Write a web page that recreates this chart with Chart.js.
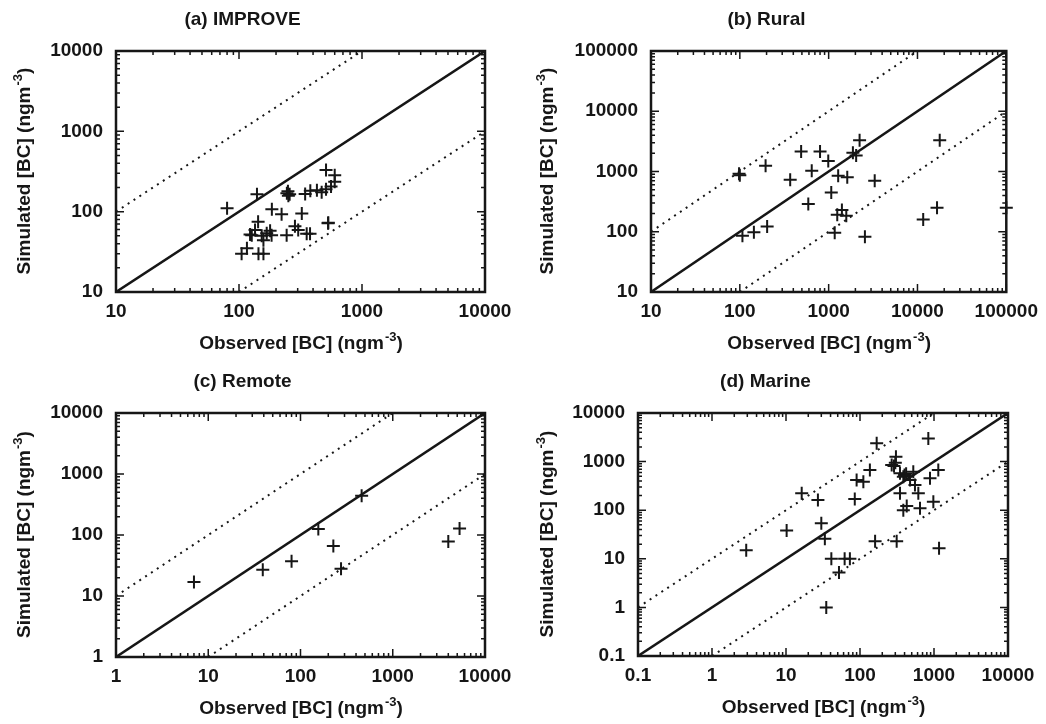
<!DOCTYPE html>
<html>
<head>
<meta charset="utf-8">
<script src="https://cdn.jsdelivr.net/npm/chart.js@4"></script>
<style>
body { margin: 0; background: #fff; }
#wrap { position: relative; width: 1046px; height: 724px; }
.panel { position: absolute; width: 523px; height: 362px; }
</style>
</head>
<body>
<div id="wrap">
  <div class="panel" style="left:0;top:0"><canvas id="improve" width="523" height="362"></canvas></div>
  <div class="panel" style="left:523px;top:0"><canvas id="rural" width="523" height="362"></canvas></div>
  <div class="panel" style="left:0;top:362px"><canvas id="remote" width="523" height="362"></canvas></div>
  <div class="panel" style="left:523px;top:362px"><canvas id="marine" width="523" height="362"></canvas></div>
</div>
<script>
// (a) IMPROVE
var improveTicks = [10, 100, 1000, 10000];
var improveObs = [80, 140, 245, 250, 258, 252, 345, 380, 430, 470, 510, 560, 510, 600, 600, 530,
    185, 222, 324, 143, 285, 532, 123, 135, 153, 168, 179, 184, 158, 244, 303, 355, 378, 127, 105, 116, 144, 158];
var improveSim = [110, 165, 170, 180, 165, 158, 166, 182, 185, 175, 190, 205, 330, 285, 235, 72,
    107, 93, 95, 75, 66, 73, 52, 59, 50, 54, 58, 51, 44, 51, 59, 53, 53, 51, 30, 35, 30, 30];

// (b) Rural
var ruralTicks = [10, 100, 1000, 10000, 100000];
var ruralObs = [2230, 17800, 490, 800, 990, 1875, 2040, 98, 100, 195, 645, 369, 1280, 1620, 3300,
    1070, 590, 1410, 1250, 1580, 16600, 11600, 100000, 203, 144, 107, 1170, 2560];
var ruralSim = [3300, 3300, 2150, 2150, 1500, 2050, 1850, 920, 870, 1250, 1030, 730, 850, 800, 700,
    450, 290, 230, 192, 185, 250, 160, 250, 122, 98, 86, 96, 83];

// (c) Remote
var remoteTicks = [1, 10, 100, 1000, 10000];
var remoteObs = [7, 39, 80, 156, 227, 275, 460, 4000, 5300];
var remoteSim = [17, 27, 37, 125, 66, 28, 440, 78, 128];

// (d) Marine
var marineTicks = [0.1, 1, 10, 100, 1000, 10000];
var marineObs = [2.9, 10.2, 16.3, 27, 30, 33.5, 35, 41, 62, 73, 52, 85, 90, 111, 136, 168, 160,
    268, 288, 306, 313, 347, 385, 400, 420, 525, 475, 553, 347, 614, 428, 385, 647, 838, 883, 1143, 980, 1170, 300];
var marineSim = [15, 38, 223, 162, 54, 26, 1, 10, 10, 10, 5.2, 170, 417, 386, 670, 2380, 23,
    850, 810, 1260, 23, 576, 490, 530, 560, 617, 417, 331, 223, 223, 122, 100, 110, 3000, 453, 670, 150, 16.4, 950];

var FONT = "'Liberation Sans', Arial, Helvetica, sans-serif";
var INK = '#161616';

function axisTitle(ctx, x, y, angle, main, sup, tail) {
    ctx.save();
    ctx.translate(x, y);
    ctx.rotate(angle);
    var big = 'bold 19px ' + FONT;
    var small = 'bold 13px ' + FONT;
    ctx.font = big;
    var w1 = ctx.measureText(main).width;
    var w3 = ctx.measureText(tail).width;
    ctx.font = small;
    var w2 = ctx.measureText(sup).width;
    var x0 = -(w1 + w2 + w3) / 2;
    ctx.fillStyle = INK;
    ctx.textAlign = 'left';
    ctx.textBaseline = 'middle';
    ctx.font = big;
    ctx.fillText(main, x0, 0);
    ctx.font = small;
    ctx.fillText(sup, x0 + w1 + 1, -7);
    ctx.font = big;
    ctx.fillText(tail, x0 + w1 + w2 + 1, 0);
    ctx.restore();
}

// gnuplot style frame: border plus inward ticks on all four sides
var framePlugin = {
    id: 'frame',
    beforeDatasetsDraw: function (chart) {
        var ctx = chart.ctx;
        var a = chart.chartArea;
        var xs = chart.scales.x, ys = chart.scales.y;
        ctx.save();
        ctx.strokeStyle = INK;
        ctx.lineWidth = 1.5;
        [xs, ys].forEach(function (s) {
            var lo = Math.round(Math.log10(s.min)), hi = Math.round(Math.log10(s.max));
            for (var e = lo; e <= hi; e++) {
                for (var k = 1; k < 10; k++) {
                    if (e === hi && k > 1) break;
                    var v = k * Math.pow(10, e);
                    var len = k === 1 ? 8 : 4;
                    var p = s.getPixelForValue(v);
                    ctx.beginPath();
                    if (s === xs) {
                        ctx.moveTo(p, a.bottom); ctx.lineTo(p, a.bottom - len);
                        ctx.moveTo(p, a.top); ctx.lineTo(p, a.top + len);
                    } else {
                        ctx.moveTo(a.left, p); ctx.lineTo(a.left + len, p);
                        ctx.moveTo(a.right, p); ctx.lineTo(a.right - len, p);
                    }
                    ctx.stroke();
                }
            }
        });
        ctx.lineWidth = 2.5;
        ctx.strokeRect(a.left, a.top, a.right - a.left, a.bottom - a.top);
        ctx.restore();
    },
    afterDraw: function (chart) {
        var ctx = chart.ctx;
        var a = chart.chartArea;
        axisTitle(ctx, (a.left + a.right) / 2, a.bottom + 52, 0, 'Observed [BC] (ngm', '-3', ')');
        axisTitle(ctx, 25, (a.top + a.bottom) / 2, -Math.PI / 2, 'Simulated [BC] (ngm', '-3', ')');
    }
};

function makePanel(id, title, ticks, obs, sim, left, right, xh) {
    var lo = ticks[0], hi = ticks[ticks.length - 1];
    var pts = obs.map(function (x, i) { return {x: x, y: sim[i]}; });
    var tickFont = {family: FONT, size: 19, weight: 'bold'};
    return new Chart(document.getElementById(id), {
        type: 'scatter',
        data: {
            datasets: [{
                data: pts,
                pointStyle: 'cross',
                pointRadius: 6.5,
                borderColor: INK,
                borderWidth: 2,
                clip: false
            }, {
                data: [{x: lo, y: lo}, {x: hi, y: hi}],
                showLine: true,
                pointRadius: 0,
                borderColor: INK,
                borderWidth: 2.5
            }, {
                data: [{x: lo, y: lo * 10}, {x: hi / 10, y: hi}],
                showLine: true,
                pointRadius: 0,
                borderColor: INK,
                borderWidth: 2,
                borderDash: [2, 5]
            }, {
                data: [{x: lo * 10, y: lo}, {x: hi, y: hi / 10}],
                showLine: true,
                pointRadius: 0,
                borderColor: INK,
                borderWidth: 2,
                borderDash: [2, 5]
            }]
        },
        options: {
            responsive: false,
            animation: false,
            devicePixelRatio: 1,
            events: [],
            layout: {padding: {left: 0, right: right, top: 0, bottom: 0}},
            plugins: {
                legend: {display: false},
                tooltip: {enabled: false},
                title: {
                    display: true,
                    text: title,
                    color: INK,
                    font: {family: FONT, size: 19, weight: 'bold'},
                    padding: {top: 8.6, bottom: 19.6}
                }
            },
            scales: {
                x: {
                    type: 'logarithmic',
                    min: lo,
                    max: hi,
                    grid: {display: false, drawTicks: false},
                    border: {display: false},
                    afterBuildTicks: function (s) { s.ticks = ticks.map(function (v) { return {value: v}; }); },
                    afterFit: function (s) { s.height = xh; },
                    ticks: {
                        callback: function (v) { return String(v); },
                        color: INK, font: tickFont, padding: 8,
                        maxRotation: 0, autoSkip: false
                    }
                },
                y: {
                    type: 'logarithmic',
                    min: lo,
                    max: hi,
                    grid: {display: false, drawTicks: false},
                    border: {display: false},
                    afterBuildTicks: function (s) { s.ticks = ticks.map(function (v) { return {value: v}; }); },
                    afterFit: function (s) { s.width = left; },
                    ticks: {
                        callback: function (v) { return String(v); },
                        color: INK, font: tickFont, padding: 13,
                        autoSkip: false
                    }
                }
            }
        },
        plugins: [framePlugin]
    });
}

makePanel('improve', '(a) IMPROVE', improveTicks, improveObs, improveSim, 116, 38, 70);
makePanel('rural', '(b) Rural', ruralTicks, ruralObs, ruralSim, 128, 36, 70);
makePanel('remote', '(c) Remote', remoteTicks, remoteObs, remoteSim, 116, 38, 67);
makePanel('marine', '(d) Marine', marineTicks, marineObs, marineSim, 115, 38, 68);
</script>
</body>
</html>
